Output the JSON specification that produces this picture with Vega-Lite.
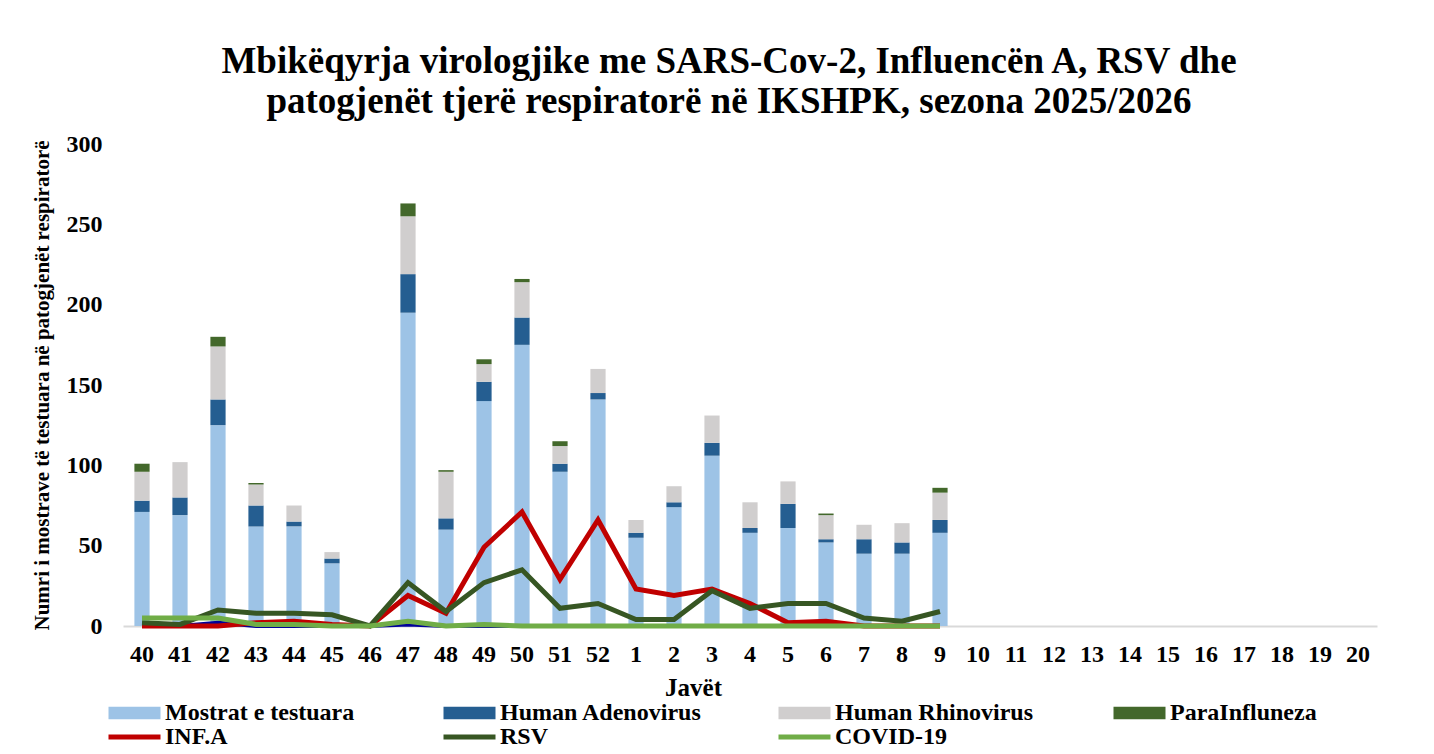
{
  "$schema": "https://vega.github.io/schema/vega-lite/v6.json",
  "width": 1254,
  "height": 482,
  "autosize": {"type": "none"},
  "padding": {"left": 123, "top": 144, "right": 57, "bottom": 128},
  "background": "white",
  "config": {"view": {"stroke": null}},
  "title": {
    "text": ["Mbikëqyrja virologjike me SARS-Cov-2,  Influencën A, RSV dhe", "patogjenët tjerë respiratorë në IKSHPK, sezona 2025/2026"],
    "font": "Liberation Serif",
    "fontSize": 37,
    "fontWeight": "bold",
    "lineHeight": 40,
    "color": "black",
    "anchor": "middle",
    "dx": -21,
    "offset": 11
  },
  "datasets": {
    "bars": [
      {"w": "40", "Mostrat e testuara": 71, "Human Adenovirus": 7, "Human Rhinovirus": 18, "ParaInfluneza": 5, "blu": 0},
      {"w": "41", "Mostrat e testuara": 69, "Human Adenovirus": 11, "Human Rhinovirus": 22, "ParaInfluneza": 0, "blu": 0},
      {"w": "42", "Mostrat e testuara": 125, "Human Adenovirus": 16, "Human Rhinovirus": 33, "ParaInfluneza": 6, "blu": 2},
      {"w": "43", "Mostrat e testuara": 62, "Human Adenovirus": 13, "Human Rhinovirus": 13, "ParaInfluneza": 1, "blu": 0},
      {"w": "44", "Mostrat e testuara": 62, "Human Adenovirus": 3, "Human Rhinovirus": 10, "ParaInfluneza": 0, "blu": 0},
      {"w": "45", "Mostrat e testuara": 39, "Human Adenovirus": 3, "Human Rhinovirus": 4, "ParaInfluneza": 0, "blu": 0},
      {"w": "46", "Mostrat e testuara": 0, "Human Adenovirus": 0, "Human Rhinovirus": 0, "ParaInfluneza": 0, "blu": 0},
      {"w": "47", "Mostrat e testuara": 195, "Human Adenovirus": 24, "Human Rhinovirus": 36, "ParaInfluneza": 8, "blu": 1},
      {"w": "48", "Mostrat e testuara": 60, "Human Adenovirus": 7, "Human Rhinovirus": 29, "ParaInfluneza": 1, "blu": 0},
      {"w": "49", "Mostrat e testuara": 140, "Human Adenovirus": 12, "Human Rhinovirus": 11, "ParaInfluneza": 3, "blu": 0},
      {"w": "50", "Mostrat e testuara": 175, "Human Adenovirus": 17, "Human Rhinovirus": 22, "ParaInfluneza": 2, "blu": 0},
      {"w": "51", "Mostrat e testuara": 96, "Human Adenovirus": 5, "Human Rhinovirus": 11, "ParaInfluneza": 3, "blu": 0},
      {"w": "52", "Mostrat e testuara": 141, "Human Adenovirus": 4, "Human Rhinovirus": 15, "ParaInfluneza": 0, "blu": 0},
      {"w": "1", "Mostrat e testuara": 55, "Human Adenovirus": 3, "Human Rhinovirus": 8, "ParaInfluneza": 0, "blu": 0},
      {"w": "2", "Mostrat e testuara": 74, "Human Adenovirus": 3, "Human Rhinovirus": 10, "ParaInfluneza": 0, "blu": 0},
      {"w": "3", "Mostrat e testuara": 106, "Human Adenovirus": 8, "Human Rhinovirus": 17, "ParaInfluneza": 0, "blu": 0},
      {"w": "4", "Mostrat e testuara": 58, "Human Adenovirus": 3, "Human Rhinovirus": 16, "ParaInfluneza": 0, "blu": 0},
      {"w": "5", "Mostrat e testuara": 61, "Human Adenovirus": 15, "Human Rhinovirus": 14, "ParaInfluneza": 0, "blu": 0},
      {"w": "6", "Mostrat e testuara": 52, "Human Adenovirus": 2, "Human Rhinovirus": 15, "ParaInfluneza": 1, "blu": 0},
      {"w": "7", "Mostrat e testuara": 45, "Human Adenovirus": 9, "Human Rhinovirus": 9, "ParaInfluneza": 0, "blu": 0},
      {"w": "8", "Mostrat e testuara": 45, "Human Adenovirus": 7, "Human Rhinovirus": 12, "ParaInfluneza": 0, "blu": 0},
      {"w": "9", "Mostrat e testuara": 58, "Human Adenovirus": 8, "Human Rhinovirus": 17, "ParaInfluneza": 3, "blu": 0}
    ],
    "lines": [
      {"w": "40", "s": "INF.A", "v": 0}, {"w": "40", "s": "RSV", "v": 2}, {"w": "40", "s": "COVID-19", "v": 5},
      {"w": "41", "s": "INF.A", "v": 0}, {"w": "41", "s": "RSV", "v": 1}, {"w": "41", "s": "COVID-19", "v": 5},
      {"w": "42", "s": "INF.A", "v": 0}, {"w": "42", "s": "RSV", "v": 10}, {"w": "42", "s": "COVID-19", "v": 5},
      {"w": "43", "s": "INF.A", "v": 2}, {"w": "43", "s": "RSV", "v": 8}, {"w": "43", "s": "COVID-19", "v": 1},
      {"w": "44", "s": "INF.A", "v": 3}, {"w": "44", "s": "RSV", "v": 8}, {"w": "44", "s": "COVID-19", "v": 1},
      {"w": "45", "s": "INF.A", "v": 1}, {"w": "45", "s": "RSV", "v": 7}, {"w": "45", "s": "COVID-19", "v": 0},
      {"w": "46", "s": "INF.A", "v": 0}, {"w": "46", "s": "RSV", "v": 0}, {"w": "46", "s": "COVID-19", "v": 0},
      {"w": "47", "s": "INF.A", "v": 19}, {"w": "47", "s": "RSV", "v": 27}, {"w": "47", "s": "COVID-19", "v": 3},
      {"w": "48", "s": "INF.A", "v": 8}, {"w": "48", "s": "RSV", "v": 9}, {"w": "48", "s": "COVID-19", "v": 0},
      {"w": "49", "s": "INF.A", "v": 49}, {"w": "49", "s": "RSV", "v": 27}, {"w": "49", "s": "COVID-19", "v": 1},
      {"w": "50", "s": "INF.A", "v": 71}, {"w": "50", "s": "RSV", "v": 35}, {"w": "50", "s": "COVID-19", "v": 0},
      {"w": "51", "s": "INF.A", "v": 29}, {"w": "51", "s": "RSV", "v": 11}, {"w": "51", "s": "COVID-19", "v": 0},
      {"w": "52", "s": "INF.A", "v": 66}, {"w": "52", "s": "RSV", "v": 14}, {"w": "52", "s": "COVID-19", "v": 0},
      {"w": "1", "s": "INF.A", "v": 23}, {"w": "1", "s": "RSV", "v": 4}, {"w": "1", "s": "COVID-19", "v": 0},
      {"w": "2", "s": "INF.A", "v": 19}, {"w": "2", "s": "RSV", "v": 4}, {"w": "2", "s": "COVID-19", "v": 0},
      {"w": "3", "s": "INF.A", "v": 23}, {"w": "3", "s": "RSV", "v": 22}, {"w": "3", "s": "COVID-19", "v": 0},
      {"w": "4", "s": "INF.A", "v": 14}, {"w": "4", "s": "RSV", "v": 11}, {"w": "4", "s": "COVID-19", "v": 0},
      {"w": "5", "s": "INF.A", "v": 2}, {"w": "5", "s": "RSV", "v": 14}, {"w": "5", "s": "COVID-19", "v": 0},
      {"w": "6", "s": "INF.A", "v": 3}, {"w": "6", "s": "RSV", "v": 14}, {"w": "6", "s": "COVID-19", "v": 0},
      {"w": "7", "s": "INF.A", "v": 0}, {"w": "7", "s": "RSV", "v": 5}, {"w": "7", "s": "COVID-19", "v": 0},
      {"w": "8", "s": "INF.A", "v": 0}, {"w": "8", "s": "RSV", "v": 3}, {"w": "8", "s": "COVID-19", "v": 0},
      {"w": "9", "s": "INF.A", "v": 0}, {"w": "9", "s": "RSV", "v": 9}, {"w": "9", "s": "COVID-19", "v": 0}
    ]
  },
  "encoding": {
    "x": {
      "field": "w",
      "type": "ordinal",
      "scale": {
        "domain": ["40","41","42","43","44","45","46","47","48","49","50","51","52","1","2","3","4","5","6","7","8","9","10","11","12","13","14","15","16","17","18","19","20"],
        "paddingInner": 0.6,
        "paddingOuter": 0.3
      },
      "axis": {
        "labelFont": "Liberation Serif",
        "labelFontSize": 24,
        "labelFontWeight": "bold",
        "labelColor": "black",
        "labelAngle": 0,
        "labelPadding": 16,
        "ticks": false,
        "grid": false,
        "domainColor": "#d9d9d9",
        "domainWidth": 2,
        "title": "Javët",
        "titleFont": "Liberation Serif",
        "titleFontSize": 25,
        "titleFontWeight": "bold",
        "titleColor": "black",
        "titlePadding": 9,
        "titleX": 570
      }
    }
  },
  "layer": [
    {
      "data": {"name": "bars"},
      "transform": [
        {"fold": ["Mostrat e testuara", "Human Adenovirus", "Human Rhinovirus", "ParaInfluneza"], "as": ["series", "value"]},
        {"window": [{"op": "row_number", "as": "k"}], "groupby": ["w"]}
      ],
      "mark": {"type": "bar"},
      "encoding": {
        "y": {
          "field": "value",
          "type": "quantitative",
          "stack": "zero",
          "scale": {"domain": [0, 300], "nice": false},
          "axis": {
            "values": [0, 50, 100, 150, 200, 250, 300],
            "labelFont": "Liberation Serif",
            "labelFontSize": 24,
            "labelFontWeight": "bold",
            "labelColor": "black",
            "labelPadding": 21,
            "ticks": false,
            "domain": false,
            "grid": false,
            "title": "Numri i mostrave të testuara në patogjenët respiratorë",
            "titleFont": "Liberation Serif",
            "titleFontSize": 21,
            "titleFontWeight": "bold",
            "titleColor": "black",
            "titlePadding": 14
          }
        },
        "order": {"field": "k", "type": "quantitative", "sort": "ascending"},
        "color": {
          "field": "series",
          "type": "nominal",
          "scale": {
            "domain": ["Mostrat e testuara", "Human Adenovirus", "Human Rhinovirus", "ParaInfluneza", "INF.A", "RSV", "COVID-19"],
            "range": ["#9dc3e6", "#255e91", "#d0cece", "#43682b", "#c00000", "#375623", "#70ad47"]
          },
          "legend": {
            "orient": "none",
            "legendX": -20,
            "legendY": 557,
            "direction": "horizontal",
            "columns": 4,
            "gridAlign": "all",
            "columnPadding": 70,
            "rowPadding": 0,
            "title": null,
            "labelFont": "Liberation Serif",
            "labelFontSize": 24,
            "labelFontWeight": "bold",
            "labelColor": "black",
            "labelOffset": 38,
            "labelLimit": 0,
            "symbolSize": 169,
            "symbolStrokeWidth": 0,
            "encode": {
              "symbols": {
                "update": {
                  "shape": {"signal": "indexof(['INF.A','RSV','COVID-19'], datum.value) >= 0 ? 'M-1,-0.38H7V0.38H-1Z' : 'M-1,-0.95H7V0.95H-1Z'"},
                  "fill": {"scale": "color", "field": "value"},
                  "stroke": {"value": "transparent"},
                  "opacity": {"value": 1}
                }
              }
            }
          }
        }
      }
    },
    {
      "data": {"name": "bars"},
      "mark": {"type": "line", "color": "#000099", "strokeWidth": 4},
      "encoding": {
        "y": {"field": "blu", "type": "quantitative"}
      }
    },
    {
      "data": {"name": "lines"},
      "mark": {"type": "line", "strokeWidth": 5},
      "encoding": {
        "y": {"field": "v", "type": "quantitative"},
        "color": {"field": "s", "type": "nominal"}
      }
    }
  ]
}
